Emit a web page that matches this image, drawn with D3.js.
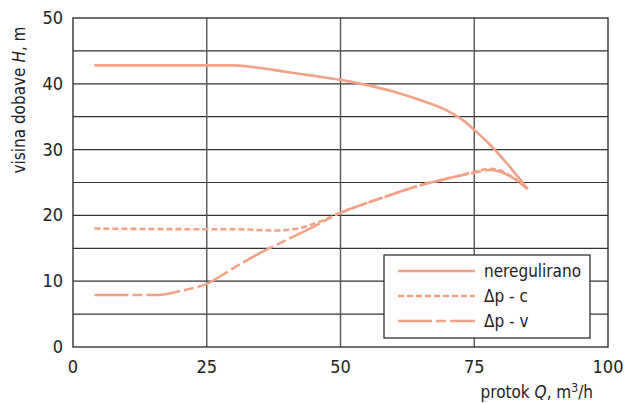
<!DOCTYPE html>
<html>
<head>
<meta charset="utf-8">
<script src="https://cdn.jsdelivr.net/npm/d3@7"></script>
<style>
  body { margin: 0; background: #fff; }
  text { font-family: "Liberation Sans Narrow", "Arial Narrow", "DejaVu Sans Condensed", sans-serif; fill: #222; }
</style>
</head>
<body>
<svg class="chart"></svg>
<script>
// curve data: [Q, H]
var neregulirano = [[4, 42.8], [30, 42.8], [35, 42.4], [40, 41.8], [45, 41.2], [50, 40.6], [55, 39.8],
  [60, 38.8], [65, 37.5], [70, 35.9], [73, 34.4], [75, 33.0], [78, 30.7], [81, 28.0], [85, 24.0]];
var dpC = [[4, 18.0], [25, 17.9], [30, 17.9], [38, 17.7], [42, 18.0], [46, 19.0], [50, 20.4], [55, 21.9],
  [60, 23.3], [65, 24.6], [70, 25.6], [75, 26.6], [78, 27.1], [80, 26.8], [82, 25.9], [85, 24.0]];
var dpV = [[4, 7.9], [16, 7.9], [20, 8.5], [25, 9.6], [30, 12.0], [35, 14.3], [40, 16.3], [45, 18.3],
  [50, 20.4], [55, 21.9], [60, 23.3], [65, 24.6], [70, 25.6], [75, 26.5], [78, 26.9], [80, 26.6], [82, 25.8], [85, 24.0]];
var series = [
  {name: "neregulirano", data: neregulirano, dash: null},
  {name: "\u0394p - c", data: dpC, dash: "6,3"},
  {name: "\u0394p - v", data: dpV, dash: "34,4,10,4"}
];
var xTicks = [0, 25, 50, 75, 100];
var yTicks = [0, 10, 20, 30, 40, 50];
var yGrid = [5, 10, 15, 20, 25, 30, 35, 40, 45];

function show() {
  'use strict';
  var width = 626, height = 403;
  var margin = {top: 18, left: 73, right: 18, bottom: 56};
  var color = "#f2a287";

  var svg = d3.select(".chart").attr("width", width).attr("height", height);

  var x = d3.scaleLinear().domain([0, 100]).range([margin.left, width - margin.right]);
  var y = d3.scaleLinear().domain([0, 50]).range([height - margin.bottom, margin.top]);

  // grid
  svg.append("g").selectAll("line").data(yGrid).enter().append("line")
    .attr("x1", x(0)).attr("x2", x(100))
    .attr("y1", function(d) { return y(d); }).attr("y2", function(d) { return y(d); })
    .attr("stroke", "#333").attr("stroke-width", 1.2);
  svg.append("g").selectAll("line").data([25, 50, 75]).enter().append("line")
    .attr("x1", function(d) { return x(d); }).attr("x2", function(d) { return x(d); })
    .attr("y1", y(0)).attr("y2", y(50))
    .attr("stroke", "#555").attr("stroke-width", 1.4);
  svg.append("rect")
    .attr("x", x(0)).attr("y", y(50)).attr("width", x(100) - x(0)).attr("height", y(0) - y(50))
    .attr("fill", "none").attr("stroke", "#333").attr("stroke-width", 1.4);

  // tick labels
  svg.append("g").selectAll("text").data(yTicks).enter().append("text")
    .attr("x", x(0) - 10).attr("y", function(d) { return y(d) + 6; })
    .attr("text-anchor", "end").attr("font-size", 18)
    .text(function(d) { return d; });
  svg.append("g").selectAll("text").data(xTicks).enter().append("text")
    .attr("x", function(d) { return x(d); }).attr("y", 373)
    .attr("text-anchor", "middle").attr("font-size", 18)
    .text(function(d) { return d; });

  // axis titles
  var yl = svg.append("text")
    .attr("transform", "translate(25,100) rotate(-90)")
    .attr("text-anchor", "middle").attr("font-size", 17);
  yl.append("tspan").text("visina dobave ");
  yl.append("tspan").attr("font-style", "italic").text("H");
  yl.append("tspan").text(", m");

  var xl = svg.append("text")
    .attr("x", 593).attr("y", 398)
    .attr("text-anchor", "end").attr("font-size", 17);
  xl.append("tspan").text("protok ");
  xl.append("tspan").attr("font-style", "italic").text("Q");
  xl.append("tspan").text(", m");
  xl.append("tspan").attr("font-size", 12).attr("dy", -6).text("3");
  xl.append("tspan").attr("dy", 6).text("/h");

  // curves
  var line = d3.line()
    .x(function(d) { return x(d[0]); })
    .y(function(d) { return y(d[1]); })
    .curve(d3.curveMonotoneX);

  svg.append("g").selectAll("path").data(series).enter().append("path")
    .attr("d", function(s) { return line(s.data); })
    .attr("fill", "none").attr("stroke", color).attr("stroke-width", 2.6)
    .attr("stroke-dasharray", function(s) { return s.dash; });

  // legend
  var lg = svg.append("g");
  lg.append("rect").attr("x", 384).attr("y", 255).attr("width", 206).attr("height", 83)
    .attr("fill", "#fff").attr("stroke", "#222").attr("stroke-width", 1.2);
  var items = lg.selectAll("g.item").data(series).enter().append("g")
    .attr("transform", function(d, i) { return "translate(398," + (271 + i * 25) + ")"; });
  items.append("line").attr("x1", 0).attr("x2", 77).attr("y1", 0).attr("y2", 0)
    .attr("stroke", color).attr("stroke-width", 2.6)
    .attr("stroke-dasharray", function(s) { return s.dash; });
  items.append("text").attr("x", 86).attr("y", 6).attr("font-size", 17)
    .text(function(s) { return s.name; });
}
show();
</script>
</body>
</html>
